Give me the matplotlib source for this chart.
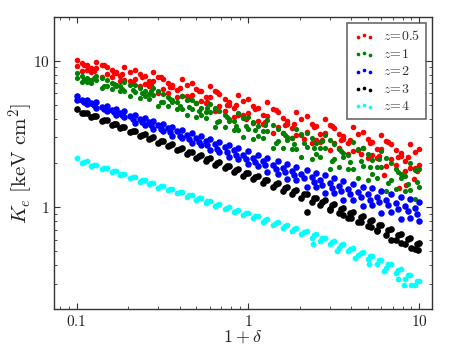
import numpy as np
import matplotlib
matplotlib.use("Agg")
import matplotlib.pyplot as plt
from matplotlib.ticker import FixedLocator, FuncFormatter, LogLocator, NullFormatter

plt.rcParams["mathtext.fontset"] = "cm"
plt.rcParams["font.family"] = "serif"

# sample positions along 1+delta (three interleaved sets)
x_a = [0.10, 0.115, 0.13, 0.15, 0.17, 0.19, 0.22, 0.25, 0.28, 0.32, 0.36, 0.41, 0.47,
       0.53, 0.60, 0.68, 0.78, 0.88, 1.0, 1.15, 1.3, 1.5, 1.7, 1.9, 2.2, 2.5, 2.8, 3.2,
       3.6, 4.1, 4.7, 5.3, 6.0, 6.8, 7.8, 8.8, 10.0]
x_b = [0.107, 0.122, 0.14, 0.16, 0.18, 0.205, 0.235, 0.265, 0.30, 0.34, 0.385, 0.44,
       0.50, 0.565, 0.64, 0.73, 0.83, 0.94, 1.07, 1.22, 1.4, 1.6, 1.8, 2.05, 2.35, 2.65,
       3.0, 3.4, 3.85, 4.4, 5.0, 5.65, 6.4, 7.3, 8.3, 9.4]
x_c = [0.111, 0.126, 0.145, 0.165, 0.185, 0.212, 0.242, 0.272, 0.31, 0.35, 0.40, 0.455,
       0.515, 0.58, 0.66, 0.755, 0.855, 0.97, 1.1, 1.26, 1.45, 1.65, 1.85, 2.12, 2.42,
       2.72, 3.1, 3.5, 3.95, 4.55, 5.15, 5.8, 6.6, 7.55, 8.55, 9.7]

# z = 0.5
z05_r1 = [10.16, 9.42, 9.84, 9.12, 8.41, 9.02, 8.65, 7.83, 8.32, 7.52, 6.84, 7.48, 7.05,
          6.22, 6.73, 5.94, 5.24, 5.87, 5.52, 4.72, 5.19, 4.47, 3.89, 4.49, 4.17, 3.56,
          3.99, 3.46, 3.04, 3.51, 3.27, 2.80, 3.11, 2.68, 2.33, 2.69, 2.51]
z05_r2 = [9.64, 8.93, 9.33, 8.69, 7.91, 8.43, 8.07, 7.29, 7.76, 7.06, 6.30, 6.85, 6.46,
          5.69, 6.18, 5.47, 4.72, 5.31, 4.94, 4.24, 4.68, 4.06, 3.48, 3.99, 3.72, 3.18,
          3.61, 3.17, 2.72, 3.14, 2.92, 2.49, 2.81, 2.44, 2.08, 2.39]
z05_r3 = [9.18, 8.61, 8.89, 8.13, 8.22, 7.38, 7.48, 6.92, 7.26, 6.46, 6.62, 5.75, 5.85,
          5.31, 5.66, 4.92, 5.02, 4.27, 4.40, 3.89, 4.21, 3.55, 3.72, 3.10, 3.24, 2.89,
          3.21, 2.75, 2.90, 2.43, 2.54, 2.28, 2.50, 2.13, 2.23, 1.86, 1.95]
z05_r4 = [8.53, 8.39, 7.76, 7.74, 7.26, 7.31, 6.76, 6.70, 6.05, 6.05, 5.64, 5.71, 5.15,
          5.11, 4.52, 4.52, 4.11, 4.24, 3.77, 3.72, 3.20, 3.23, 2.96, 3.10, 2.75, 2.77,
          2.44, 2.52, 2.32, 2.44, 2.16, 2.17, 1.90, 1.94, 1.77, 1.86]
z05_r5 = [9.40, 8.51, 9.29, 8.22, 8.15, 7.08, 7.80, 6.82, 7.71, 6.59, 6.52, 5.46, 6.18,
          5.24, 6.12, 5.00, 4.95, 4.01, 4.70, 3.83, 4.62, 3.66, 3.69, 2.92, 3.52, 2.88,
          3.57, 2.86, 2.89, 2.29, 2.76, 2.25, 2.77, 2.20, 2.21, 1.76]
z05_xo = [6.2, 7.6, 8.4, 9.3]
z05_yo = [1.65, 1.35, 1.42, 1.55]

# z = 1
z1_r1 = [8.20, 7.67, 7.87, 7.35, 6.84, 7.18, 6.84, 6.25, 6.50, 5.90, 5.38, 5.75, 5.40,
         4.79, 5.07, 4.50, 3.98, 4.38, 4.11, 3.58, 3.91, 3.41, 3.01, 3.44, 3.22, 2.76,
         3.12, 2.68, 2.33, 2.77, 2.55, 2.10, 2.41, 2.00, 1.67, 2.00, 1.82]
z1_r2 = [7.92, 7.40, 7.60, 7.10, 6.71, 6.82, 6.53, 5.93, 6.17, 5.64, 5.26, 5.41, 5.11,
         4.47, 4.76, 4.24, 3.89, 4.05, 3.81, 3.31, 3.63, 3.21, 2.95, 3.16, 2.95, 2.52,
         2.87, 2.50, 2.28, 2.49, 2.29, 1.87, 2.18, 1.82, 1.63, 1.78]
z1_r3 = [7.66, 7.21, 7.35, 6.76, 6.71, 6.17, 6.14, 5.70, 5.87, 5.26, 5.24, 4.66, 4.66,
         4.24, 4.43, 3.87, 3.85, 3.36, 3.42, 3.07, 3.30, 2.83, 2.89, 2.49, 2.58, 2.30,
         2.54, 2.13, 2.20, 1.82, 1.92, 1.67, 1.87, 1.53, 1.58, 1.30, 1.38]
z1_r4 = [7.16, 7.06, 6.49, 6.41, 6.21, 5.75, 5.57, 5.52, 4.93, 4.88, 4.71, 4.29, 4.13,
         4.06, 3.55, 3.52, 3.38, 3.03, 2.93, 2.95, 2.53, 2.55, 2.49, 2.21, 2.14, 2.19,
         1.83, 1.88, 1.83, 1.58, 1.52, 1.57, 1.28, 1.32, 1.29, 1.13]
z1_r5 = [7.52, 7.64, 6.75, 6.97, 6.41, 6.34, 6.03, 6.22, 5.19, 5.51, 4.91, 4.86, 4.55,
         4.78, 3.79, 4.11, 3.58, 3.59, 3.37, 3.61, 2.76, 3.10, 2.69, 2.73, 2.55, 2.82,
         2.05, 2.42, 2.02, 2.06, 1.89, 2.14, 1.46, 1.75, 1.44, 1.48]

# z = 2
z2_r1 = [5.71, 5.43, 5.19, 4.92, 4.70, 4.50, 4.28, 4.07, 3.90, 3.71, 3.54, 3.37, 3.20,
         3.05, 2.92, 2.78, 2.64, 2.52, 2.40, 2.28, 2.17, 2.06, 1.97, 1.89, 1.79, 1.71,
         1.65, 1.58, 1.51, 1.44, 1.38, 1.34, 1.29, 1.23, 1.18, 1.13, 1.08]
z2_r2 = [5.38, 5.12, 4.85, 4.60, 4.41, 4.19, 3.97, 3.79, 3.61, 3.45, 3.29, 3.12, 2.97,
         2.83, 2.70, 2.56, 2.44, 2.28, 2.16, 2.06, 1.95, 1.84, 1.76, 1.68, 1.60, 1.53,
         1.46, 1.40, 1.33, 1.27, 1.22, 1.17, 1.12, 1.07, 1.02, 0.98]
z2_r3 = [5.37, 5.07, 4.76, 4.54, 4.23, 4.10, 3.78, 3.66, 3.41, 3.30, 3.04, 2.96, 2.73,
         2.65, 2.45, 2.38, 2.19, 2.13, 1.96, 1.90, 1.74, 1.69, 1.55, 1.53, 1.38, 1.37,
         1.25, 1.24, 1.12, 1.12, 1.01, 1.03, 0.914, 0.931, 0.826, 0.845, 0.804]
z2_r4 = [5.22, 4.95, 4.68, 4.45, 4.25, 4.01, 3.79, 3.61, 3.43, 3.26, 3.08, 2.92, 2.78,
         2.65, 2.51, 2.38, 2.26, 2.14, 2.04, 1.93, 1.82, 1.73, 1.66, 1.57, 1.48, 1.42,
         1.35, 1.29, 1.22, 1.17, 1.12, 1.08, 1.03, 0.977, 0.933, 0.891]

# z = 3
z3_r1 = [4.70, 4.42, 4.19, 3.94, 3.72, 3.54, 3.33, 3.14, 2.99, 2.82, 2.68, 2.53, 2.39,
         2.27, 2.15, 2.03, 1.91, 1.82, 1.72, 1.62, 1.54, 1.45, 1.37, 1.31, 1.23, 1.16,
         1.11, 1.045, 0.984, 0.923, 0.863, 0.811, 0.757, 0.706, 0.655, 0.611, 0.565]
z3_r2 = [4.36, 4.11, 3.86, 3.64, 3.45, 3.26, 3.07, 2.90, 2.75, 2.60, 2.45, 2.31, 2.18,
         2.07, 1.95, 1.84, 1.73, 1.64, 1.55, 1.46, 1.37, 1.29, 1.23, 1.16, 1.09, 1.03,
         0.968, 0.906, 0.847, 0.791, 0.738, 0.690, 0.646, 0.600, 0.558, 0.518]
z3_r3 = [4.41, 4.17, 3.92, 3.71, 3.52, 3.32, 3.13, 2.97, 2.81, 2.66, 2.51, 2.37, 2.24,
         2.13, 2.01, 1.90, 1.80, 1.70, 1.61, 1.52, 1.44, 1.36, 1.29, 1.22, 1.15, 1.09,
         1.03, 0.973, 0.914, 0.853, 0.800, 0.750, 0.698, 0.649, 0.604, 0.560]
z3_xo = [2.22, 3.0, 3.6, 4.0, 4.55, 5.2, 5.7, 6.8, 7.8, 8.9, 9.8]
z3_yo = [0.93, 0.95, 0.88, 0.84, 0.794, 0.733, 0.695, 0.594, 0.566, 0.523, 0.507]

# z = 4
z4_r1 = [2.16, 2.05, 1.95, 1.85, 1.77, 1.69, 1.61, 1.53, 1.47, 1.40, 1.33, 1.27, 1.21,
         1.15, 1.10, 1.05, 1.00, 0.957, 0.912, 0.867, 0.828, 0.785, 0.750, 0.718, 0.682,
         0.650, 0.619, 0.586, 0.556, 0.524, 0.493, 0.466, 0.438, 0.407, 0.376, 0.344, 0.313]
z4_r2 = [2.01, 1.91, 1.82, 1.73, 1.65, 1.57, 1.49, 1.43, 1.36, 1.30, 1.24, 1.18, 1.12,
         1.07, 1.02, 0.970, 0.923, 0.881, 0.838, 0.796, 0.755, 0.716, 0.684, 0.650, 0.618,
         0.587, 0.557, 0.526, 0.497, 0.467, 0.439, 0.411, 0.384, 0.354, 0.324, 0.295]
z4_r3 = [2.04, 1.94, 1.84, 1.76, 1.68, 1.60, 1.52, 1.46, 1.39, 1.32, 1.26, 1.20, 1.15,
         1.10, 1.04, 0.993, 0.946, 0.904, 0.863, 0.819, 0.778, 0.741, 0.710, 0.675, 0.643,
         0.612, 0.581, 0.550, 0.520, 0.489, 0.461, 0.435, 0.406, 0.374, 0.344, 0.313]
z4_xo = [2.4, 3.3, 4.2, 5.1, 6.2, 7.5, 8.1, 9.0]
z4_yo = [0.562, 0.50, 0.447, 0.407, 0.363, 0.324, 0.292, 0.295]

series = [
    (r"$z\!=\!0.5$", "#ff0000", 16,
     x_a + x_b + x_a + x_b + x_c + z05_xo,
     z05_r1 + z05_r2 + z05_r3 + z05_r4 + z05_r5 + z05_yo),
    (r"$z\!=\!1$", "#008000", 14,
     x_a + x_b + x_a + x_b + x_c, z1_r1 + z1_r2 + z1_r3 + z1_r4 + z1_r5),
    (r"$z\!=\!2$", "#0000ff", 22,
     x_a + x_b + x_a + x_c, z2_r1 + z2_r2 + z2_r3 + z2_r4),
    (r"$z\!=\!3$", "#000000", 23,
     x_a + x_b + x_c + z3_xo, z3_r1 + z3_r2 + z3_r3 + z3_yo),
    (r"$z\!=\!4$", "#00ffff", 17,
     x_a + x_b + x_c + z4_xo, z4_r1 + z4_r2 + z4_r3 + z4_yo),
]

fig = plt.figure(figsize=(4.62, 3.46), dpi=100)
ax = fig.add_axes([0.1175, 0.106, 0.818, 0.8457])

for label, color, size, xs, ys in series:
    ax.scatter(xs, ys, s=size, c=color, marker="o", linewidths=0, label=label)

ax.set_xscale("log")
ax.set_yscale("log")
ax.set_xlim(0.074, 11.9)
ax.set_ylim(0.2, 20)

ax.xaxis.set_major_locator(FixedLocator([0.1, 1, 10]))
ax.yaxis.set_major_locator(FixedLocator([1, 10]))
fmt = FuncFormatter(lambda v, p: r"$%g$" % v)
ax.xaxis.set_major_formatter(fmt)
ax.yaxis.set_major_formatter(fmt)
ax.xaxis.set_minor_locator(LogLocator(base=10, subs=np.arange(2, 10)))
ax.yaxis.set_minor_locator(LogLocator(base=10, subs=np.arange(2, 10)))
ax.xaxis.set_minor_formatter(NullFormatter())
ax.yaxis.set_minor_formatter(NullFormatter())

ax.tick_params(which="both", direction="in", top=True, right=True, colors="#333333",
               labelcolor="#222222", labelsize=11)
ax.tick_params(which="major", length=4, width=0.8)
ax.tick_params(which="minor", length=2, width=0.6)
for sp in ax.spines.values():
    sp.set_color("#333333")
    sp.set_linewidth(1.0)

ax.set_xlabel(r"$1+\delta$", fontsize=13, labelpad=-1, color="#222222")
ax.set_ylabel(r"$K_e\ [\mathrm{keV\ cm}^2]$", fontsize=15, labelpad=-2, color="#222222")

leg = ax.legend(loc="upper right", scatterpoints=3, fontsize=10, fancybox=False,
                edgecolor="#444444", labelspacing=0.25, handletextpad=0.6,
                handlelength=1.5, borderpad=0.45, borderaxespad=0.45)
leg.get_frame().set_linewidth(1.2)
for h in leg.legend_handles:
    h.set_sizes([7])
for t in leg.get_texts():
    t.set_color("#333333")

fig.savefig("out.png", dpi=100)
